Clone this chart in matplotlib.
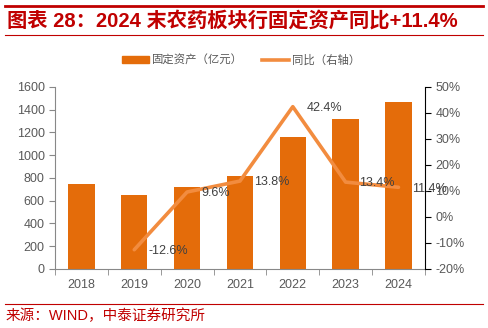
import matplotlib.pyplot as plt
from matplotlib.ticker import FuncFormatter, FixedLocator
from matplotlib.lines import Line2D
from matplotlib.patches import Patch

plt.rcParams['font.family'] = ['Liberation Sans', 'Noto Sans CJK SC', 'DejaVu Sans']

years = ['2018', '2019', '2020', '2021', '2022', '2023', '2024']
assets = [747, 653, 716, 815, 1160, 1315, 1465]
yoy_years = ['2019', '2020', '2021', '2022', '2023', '2024']
yoy = [-12.6, 9.6, 13.8, 42.4, 13.4, 11.4]

bar_color = '#E46C0A'
line_color = '#F28C3F'
grey = '#595959'
red = '#C00000'

fig = plt.figure(figsize=(4.88, 3.28), dpi=100)
ax = fig.add_axes([0.1127, 0.18, 0.758, 0.555])
ax2 = ax.twinx()

x = list(range(len(years)))
ax.bar(x, assets, width=0.5, color=bar_color, zorder=2)
ax.set_xlim(-0.5, len(years) - 0.5)
ax.set_ylim(0, 1600)
ax.set_yticks(range(0, 1601, 200))
ax.set_xticks(x)
ax.set_xticklabels(years)
ax.xaxis.set_minor_locator(FixedLocator([i - 0.5 for i in range(len(years) + 1)]))
ax.tick_params(axis='x', which='major', length=0, pad=7, labelsize=9, labelcolor=grey)
ax.tick_params(axis='x', which='minor', length=4, color='#888888')
ax.tick_params(axis='y', length=4, color='#888888', labelsize=9, labelcolor=grey)

xi = [years.index(y) for y in yoy_years]
ax2.plot(xi, yoy, color=line_color, lw=2.6, solid_capstyle='round', zorder=3)
ax2.set_ylim(-20, 50)
ax2.set_yticks(range(-20, 51, 10))
ax2.yaxis.set_major_formatter(FuncFormatter(lambda v, p: f'{v:.0f}%'))
ax2.tick_params(axis='y', length=4, color='black', labelsize=9, labelcolor=grey)
for xx, v in zip(xi, yoy):
    ax2.annotate(f'{v}%', (xx, v), xytext=(10, -1), textcoords='offset points',
                 ha='left', va='center', fontsize=9, color='#404040')

for a in (ax, ax2):
    a.spines['top'].set_visible(False)
ax.spines['left'].set_color('#888888')
ax.spines['bottom'].set_color('#888888')
ax2.spines['left'].set_visible(False)
ax2.spines['bottom'].set_visible(False)
ax2.spines['right'].set_color('black')
ax.spines['right'].set_visible(False)

handles = [Patch(color=bar_color), Line2D([0], [0], color=line_color, lw=2.6)]
fig.legend(handles, ['固定资产（亿元）', '同比（右轴）'], loc='center',
           bbox_to_anchor=(0.494, 0.817), ncol=2, frameon=False,
           fontsize=8.2, labelcolor=grey, handlelength=2.4, handleheight=0.6,
           columnspacing=1.6, handletextpad=0.3)

# header and footer
fig.add_artist(Line2D([0.01, 0.99], [0.982, 0.982], color=red, lw=2))
fig.add_artist(Line2D([0.01, 0.99], [0.893, 0.893], color=red, lw=0.8))
fig.text(0.015, 0.937, '图表 28：2024 末农药板块行固定资产同比+11.4%', color=red,
         fontsize=14.6, fontweight='bold', va='center', ha='left')
fig.add_artist(Line2D([0.01, 0.99], [0.073, 0.073], color=red, lw=0.8))
fig.text(0.012, 0.038, '来源：WIND，中泰证券研究所', color=red, fontsize=10.5,
         va='center', ha='left')

fig.savefig('out.png', dpi=100)
